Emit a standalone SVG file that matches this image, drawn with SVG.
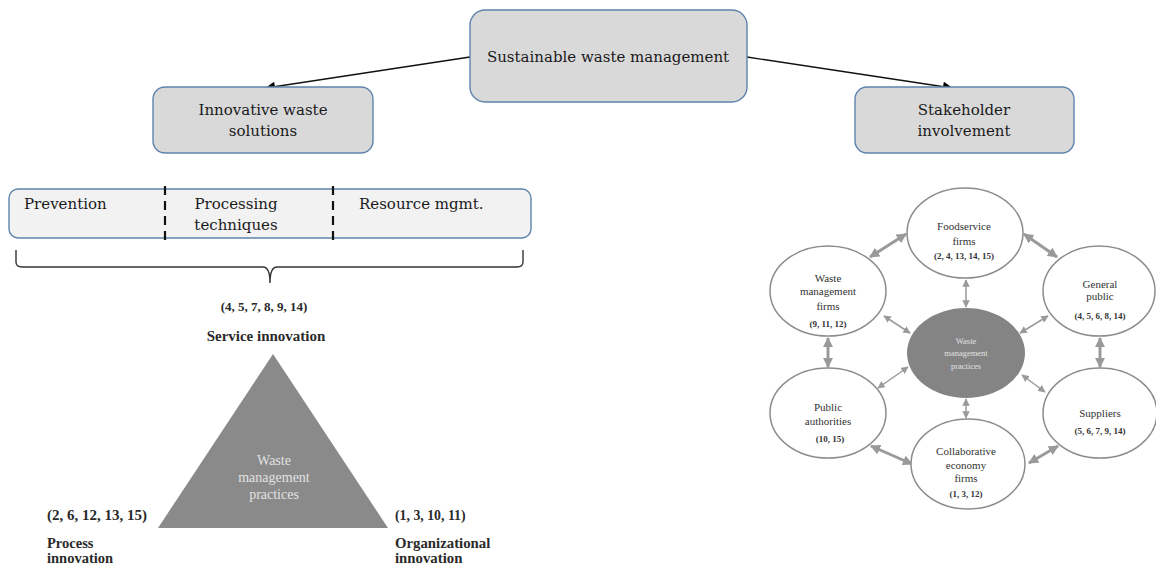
<svg xmlns="http://www.w3.org/2000/svg" width="1156" height="568" viewBox="0 0 1156 568">
<defs>
<style>
.box{fill:#d9d9d9;stroke:#5f84ad;stroke-width:1.4}
.bar{fill:#f2f2f2;stroke:#5f84ad;stroke-width:1.4}
.t{font-family:"DejaVu Serif",serif;font-size:15px;fill:#1a1a1a;text-anchor:middle}
.tl{text-anchor:start}
.b{font-family:"Liberation Serif",serif;font-weight:bold;font-size:13px;fill:#2a2a2a}
.w{font-family:"Liberation Serif",serif;font-size:14px;fill:#e2e2e2;text-anchor:middle}
.n{font-family:"Liberation Serif",serif;font-size:11px;fill:#333;text-anchor:middle}
.nb{font-family:"Liberation Serif",serif;font-weight:bold;font-size:9px;fill:#333;text-anchor:middle}
.nw{font-family:"Liberation Serif",serif;font-size:8.5px;fill:#e2e2e2;text-anchor:middle}
.ell{fill:#fff;stroke:#8c8c8c;stroke-width:1.5}
.thick{stroke:#9a9a9a;stroke-width:3;fill:none;marker-start:url(#ga);marker-end:url(#ga)}
.thin{stroke:#9a9a9a;stroke-width:1.5;fill:none;marker-start:url(#gs);marker-end:url(#gs)}
</style>
<marker id="ba" viewBox="0 0 10 10" refX="9" refY="5" markerWidth="12" markerHeight="10" markerUnits="userSpaceOnUse" orient="auto"><path d="M0,0 L10,5 L0,10 z" fill="#000"/></marker>
<marker id="ga" viewBox="0 0 10 10" refX="9" refY="5" markerWidth="3.4" markerHeight="3.4" orient="auto-start-reverse"><path d="M0,0 L10,5 L0,10 z" fill="#9a9a9a"/></marker>
<marker id="gs" viewBox="0 0 10 10" refX="9" refY="5" markerWidth="5" markerHeight="5" orient="auto-start-reverse"><path d="M0,0 L10,5 L0,10 z" fill="#9a9a9a"/></marker>
</defs>

<g id="connectors">
<line x1="470" y1="57" x2="266" y2="88" stroke="#111" stroke-width="1.3" marker-end="url(#ba)"/>
<line x1="747" y1="57" x2="952" y2="88" stroke="#111" stroke-width="1.3" marker-end="url(#ba)"/>
<line class="thick" x1="906" y1="234" x2="870" y2="257"/>
<line class="thick" x1="1024" y1="234" x2="1057" y2="257"/>
<line class="thick" x1="828" y1="338" x2="828" y2="367"/>
<line class="thick" x1="1100" y1="338" x2="1100" y2="367"/>
<line class="thick" x1="871" y1="446" x2="912" y2="464"/>
<line class="thick" x1="1029" y1="463" x2="1058" y2="446"/>
<line class="thin" x1="966" y1="280" x2="966" y2="307"/>
<line class="thin" x1="966" y1="399" x2="966" y2="418"/>
<line class="thin" x1="884" y1="316" x2="910" y2="333"/>
<line class="thin" x1="1048" y1="316" x2="1020" y2="333"/>
<line class="thin" x1="878" y1="388" x2="908" y2="367"/>
<line class="thin" x1="1022" y1="375" x2="1045" y2="392"/>
</g>

<g id="sustainable">
<rect class="box" x="470" y="10" width="277" height="92" rx="15"/>
<text class="t" x="608" y="62">Sustainable waste management</text>
</g>
<g id="innovative">
<rect class="box" x="153" y="87" width="220" height="66" rx="12"/>
<text class="t" x="263" y="115">Innovative waste</text>
<text class="t" x="263" y="136">solutions</text>
</g>
<g id="stakeholder">
<rect class="box" x="855" y="87" width="219" height="66" rx="12"/>
<text class="t" x="964" y="115">Stakeholder</text>
<text class="t" x="964" y="136">involvement</text>
</g>

<g id="categories">
<rect class="bar" x="9" y="189" width="522" height="49" rx="9"/>
<line x1="165" y1="186" x2="165" y2="241" stroke="#111" stroke-width="2.2" stroke-dasharray="9,6"/>
<line x1="333" y1="186" x2="333" y2="241" stroke="#111" stroke-width="2.2" stroke-dasharray="9,6"/>
<text class="t tl" x="24" y="209">Prevention</text>
<text class="t" x="236" y="209">Processing</text>
<text class="t" x="236" y="230">techniques</text>
<text class="t tl" x="359" y="209">Resource mgmt.</text>
</g>

<g id="brace">
<path d="M16,250 L16,262 Q16,267 22,267 L263,267 Q270,267 270,283 Q270,267 277,267 L517,267 Q523,267 523,262 L523,250" fill="none" stroke="#333" stroke-width="1.4"/>
</g>

<g id="triangle">
<text class="b" x="264" y="311" text-anchor="middle">(4, 5, 7, 8, 9, 14)</text>
<text class="b" x="266" y="341" text-anchor="middle" style="font-size:15px">Service innovation</text>
<polygon points="273,354 158,528 388,528" fill="#8a8a8a"/>
<text class="w" x="274" y="465">Waste</text>
<text class="w" x="274" y="482">management</text>
<text class="w" x="274" y="499">practices</text>
<text class="b" x="47" y="520" style="font-size:15px">(2, 6, 12, 13, 15)</text>
<text class="b" x="47" y="548" style="font-size:14.5px">Process</text>
<text class="b" x="47" y="563" style="font-size:14.5px">innovation</text>
<text class="b" x="395" y="520" style="font-size:13.8px">(1, 3, 10, 11)</text>
<text class="b" x="395" y="548" style="font-size:14.8px">Organizational</text>
<text class="b" x="395" y="563" style="font-size:14.8px">innovation</text>
</g>

<g id="center-practices">
<ellipse cx="966" cy="353" rx="59" ry="45" fill="#848484"/>
<text class="nw" x="966" y="344">Waste</text>
<text class="nw" x="966" y="356">management</text>
<text class="nw" x="966" y="369">practices</text>
</g>
<g id="foodservice">
<ellipse class="ell" cx="965" cy="233" rx="58" ry="45"/>
<text class="n" x="964" y="230">Foodservice</text>
<text class="n" x="964" y="245">firms</text>
<text class="nb" x="964" y="259">(2, 4, 13, 14, 15)</text>
</g>
<g id="waste-firms">
<ellipse class="ell" cx="828" cy="291" rx="58" ry="45"/>
<text class="n" x="828" y="282">Waste</text>
<text class="n" x="828" y="295">management</text>
<text class="n" x="828" y="310">firms</text>
<text class="nb" x="828" y="327">(9, 11, 12)</text>
</g>
<g id="general-public">
<ellipse class="ell" cx="1099" cy="291" rx="56" ry="45"/>
<text class="n" x="1100" y="288">General</text>
<text class="n" x="1100" y="300">public</text>
<text class="nb" x="1100" y="319">(4, 5, 6, 8, 14)</text>
</g>
<g id="public-authorities">
<ellipse class="ell" cx="828" cy="413" rx="58" ry="45"/>
<text class="n" x="828" y="411">Public</text>
<text class="n" x="828" y="425">authorities</text>
<text class="nb" x="830" y="442">(10, 15)</text>
</g>
<g id="suppliers">
<ellipse class="ell" cx="1100" cy="413" rx="57" ry="45"/>
<text class="n" x="1100" y="417">Suppliers</text>
<text class="nb" x="1100" y="434">(5, 6, 7, 9, 14)</text>
</g>
<g id="collaborative">
<ellipse class="ell" cx="968" cy="464" rx="57" ry="45"/>
<text class="n" x="966" y="455">Collaborative</text>
<text class="n" x="966" y="469">economy</text>
<text class="n" x="966" y="482">firms</text>
<text class="nb" x="966" y="497">(1, 3, 12)</text>
</g>
</svg>
